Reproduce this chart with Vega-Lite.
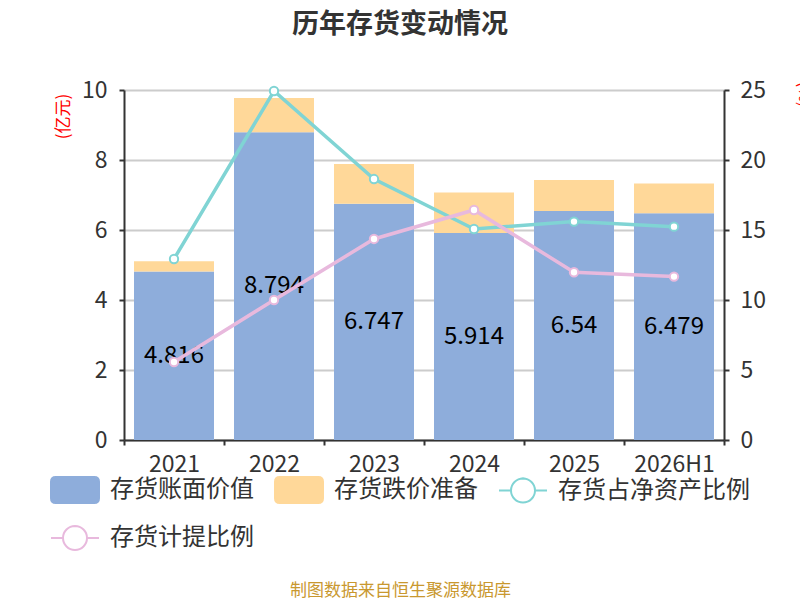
{
  "$schema": "https://vega.github.io/schema/vega-lite/v6.json",
  "width": 600,
  "height": 350,
  "autosize": {"type": "none"},
  "padding": {"left": 124, "top": 90, "right": 76, "bottom": 160},
  "background": "white",
  "config": {
    "font": "Noto Sans CJK SC",
    "view": {"stroke": null},
    "axis": {
      "labelFont": "Noto Sans CJK SC",
      "labelFontSize": 23,
      "labelColor": "#333333",
      "domainColor": "#333333",
      "domainWidth": 2,
      "tickColor": "#333333",
      "tickWidth": 2,
      "tickSize": 5
    }
  },
  "title": {
    "text": "历年存货变动情况",
    "fontSize": 27,
    "fontWeight": "bold",
    "color": "#333333",
    "anchor": "middle",
    "frame": "group",
    "dx": -24,
    "offset": 40
  },
  "datasets": {
    "bars": [
      {"year": "2021", "series": "存货账面价值", "value": 4.816},
      {"year": "2022", "series": "存货账面价值", "value": 8.794},
      {"year": "2023", "series": "存货账面价值", "value": 6.747},
      {"year": "2024", "series": "存货账面价值", "value": 5.914},
      {"year": "2025", "series": "存货账面价值", "value": 6.54},
      {"year": "2026H1", "series": "存货账面价值", "value": 6.479},
      {"year": "2021", "series": "存货跌价准备", "value": 0.29},
      {"year": "2022", "series": "存货跌价准备", "value": 0.98},
      {"year": "2023", "series": "存货跌价准备", "value": 1.14},
      {"year": "2024", "series": "存货跌价准备", "value": 1.16},
      {"year": "2025", "series": "存货跌价准备", "value": 0.89},
      {"year": "2026H1", "series": "存货跌价准备", "value": 0.85}
    ],
    "ratios": [
      {"year": "2021", "series": "存货占净资产比例", "value": 12.93},
      {"year": "2022", "series": "存货占净资产比例", "value": 24.93},
      {"year": "2023", "series": "存货占净资产比例", "value": 18.64},
      {"year": "2024", "series": "存货占净资产比例", "value": 15.07},
      {"year": "2025", "series": "存货占净资产比例", "value": 15.6},
      {"year": "2026H1", "series": "存货占净资产比例", "value": 15.24},
      {"year": "2021", "series": "存货计提比例", "value": 5.57},
      {"year": "2022", "series": "存货计提比例", "value": 10.0},
      {"year": "2023", "series": "存货计提比例", "value": 14.36},
      {"year": "2024", "series": "存货计提比例", "value": 16.43},
      {"year": "2025", "series": "存货计提比例", "value": 11.98},
      {"year": "2026H1", "series": "存货计提比例", "value": 11.67}
    ]
  },
  "encoding": {
    "x": {
      "field": "year",
      "type": "nominal",
      "sort": null,
      "scale": {"paddingInner": 0, "paddingOuter": 0},
      "axis": {
        "labelAngle": 0,
        "labelPadding": 8,
        "tickBand": "extent",
        "title": "制图数据来自恒生聚源数据库",
        "titleFontSize": 17,
        "titleFontWeight": "normal",
        "titleColor": "#c9982f",
        "titleX": 276,
        "titleY": 142,
        "titleBaseline": "top"
      }
    }
  },
  "layer": [
    {
      "data": {"name": "bars"},
      "mark": {"type": "bar", "width": {"band": 0.8}},
      "encoding": {
        "y": {
          "field": "value",
          "type": "quantitative",
          "stack": "zero",
          "scale": {"domain": [0, 10]},
          "axis": {
            "orient": "left",
            "values": [0, 2, 4, 6, 8, 10],
            "grid": true,
            "gridColor": "#cccccc",
            "gridWidth": 2,
            "labelPadding": 12,
            "title": "(亿元)",
            "titleColor": "red",
            "titleFontSize": 17,
            "titleFontWeight": "normal",
            "titleAngle": -90,
            "titleX": -61,
            "titleY": 26,
            "titleAlign": "center",
            "titleBaseline": "middle"
          }
        },
        "order": {"field": "series", "sort": "ascending"},
        "color": {
          "field": "series",
          "type": "nominal",
          "scale": {
            "domain": ["存货账面价值", "存货跌价准备", "存货占净资产比例", "存货计提比例"],
            "range": ["#8eaddb", "#ffd899", "#80d4d4", "#e8b9dd"]
          },
          "legend": {
            "title": null,
            "orient": "none",
            "legendX": -74,
            "legendY": 375,
            "direction": "horizontal",
            "columns": 3,
            "columnPadding": 17,
            "rowPadding": 6,
            "symbolSize": 2304,
            "labelOffset": 10,
            "labelFontSize": 24,
            "labelColor": "#333333",
            "labelLimit": 300,
            "encode": {
              "symbols": {
                "update": {
                  "shape": {"signal": "(datum.value === '存货账面价值' || datum.value === '存货跌价准备') ? 'M-0.8,-0.54L0.8,-0.54Q1,-0.54 1,-0.34L1,0.34Q1,0.54 0.8,0.54L-0.8,0.54Q-1,0.54 -1,0.34L-1,-0.34Q-1,-0.54 -0.8,-0.54Z' : 'M-1,0L-0.5,0A0.5,0.5 0 1,1 0.5,0A0.5,0.5 0 1,1 -0.5,0A0.5,0.5 0 1,0 0.5,0A0.5,0.5 0 1,0 -0.5,0M0.5,0L1,0'"},
                  "fill": {"signal": "datum.value === '存货账面价值' ? '#8eaddb' : datum.value === '存货跌价准备' ? '#ffd899' : '#ffffff'"},
                  "stroke": {"signal": "datum.value === '存货占净资产比例' ? '#80d4d4' : datum.value === '存货计提比例' ? '#e8b9dd' : 'transparent'"},
                  "strokeWidth": {"value": 2},
                  "opacity": {"value": 1},
                  "fillOpacity": {"value": 1},
                  "strokeOpacity": {"value": 1}
                }
              }
            }
          }
        }
      }
    },
    {
      "data": {"name": "bars"},
      "transform": [{"filter": "datum.series === '存货账面价值'"}],
      "mark": {"type": "text", "fontSize": 24, "color": "#000000", "baseline": "middle"},
      "encoding": {
        "y": {
          "field": "value",
          "type": "quantitative",
          "scale": {"domain": [0, 20]},
          "axis": null
        },
        "text": {"field": "value", "type": "quantitative"}
      }
    },
    {
      "data": {"name": "ratios"},
      "encoding": {
        "y": {
          "field": "value",
          "type": "quantitative",
          "scale": {"domain": [0, 25]},
          "axis": {
            "orient": "right",
            "values": [0, 5, 10, 15, 20, 25],
            "grid": false,
            "labelPadding": 11,
            "title": "(%)",
            "titleColor": "red",
            "titleFontSize": 16,
            "titleFontWeight": "normal",
            "titleAngle": 90,
            "titleX": 79,
            "titleY": 4,
            "titleAlign": "center",
            "titleBaseline": "middle"
          }
        },
        "color": {
          "field": "series",
          "type": "nominal",
          "scale": {
            "domain": ["存货账面价值", "存货跌价准备", "存货占净资产比例", "存货计提比例"],
            "range": ["#8eaddb", "#ffd899", "#80d4d4", "#e8b9dd"]
          }
        }
      },
      "layer": [
        {"mark": {"type": "line", "strokeWidth": 3.5}},
        {"mark": {"type": "point", "filled": false, "fill": "#ffffff", "fillOpacity": 1, "opacity": 1, "strokeWidth": 2, "size": 70}}
      ]
    }
  ],
  "resolve": {"scale": {"y": "independent"}, "axis": {"y": "independent"}}
}
